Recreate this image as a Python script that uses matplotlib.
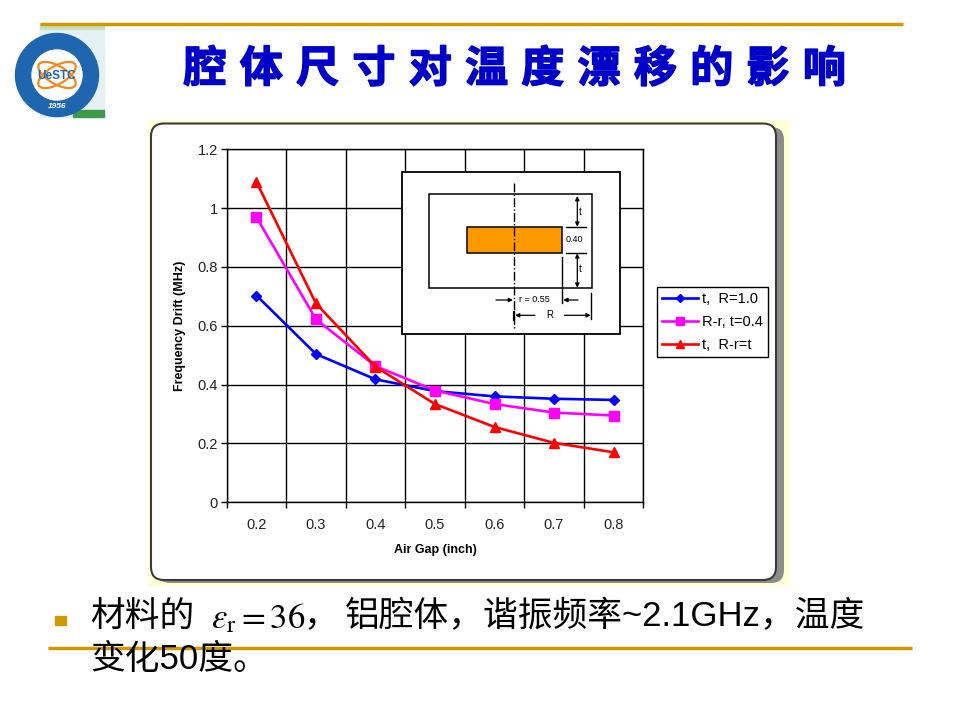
import numpy as np
import matplotlib
matplotlib.use("Agg")
import matplotlib.pyplot as plt
import matplotlib.patheffects as pe
from matplotlib.patches import Rectangle, FancyBboxPatch, Circle, Ellipse

plt.rcParams['font.family'] = ['Liberation Sans', 'Noto Sans CJK SC', 'DejaVu Sans']

# data
air_gap = ['0.2', '0.3', '0.4', '0.5', '0.6', '0.7', '0.8']
drift_t_R10 = [0.703, 0.504, 0.418, 0.378, 0.360, 0.352, 0.348]
drift_Rr_t04 = [0.969, 0.622, 0.463, 0.380, 0.334, 0.305, 0.295]
drift_t_Rrt = [1.089, 0.676, 0.461, 0.334, 0.256, 0.202, 0.170]
series_labels = ['t,  R=1.0', 'R-r, t=0.4', 't,  R-r=t']
y_ticks = [0, 0.2, 0.4, 0.6, 0.8, 1.0, 1.2]
y_tick_labels = ['0', '0.2', '0.4', '0.6', '0.8', '1', '1.2']

title_text = '腔体尺寸对温度漂移的影响'
GOLD = '#CC9900'

W, H = 960, 720
fig = plt.figure(figsize=(9.6, 7.2), dpi=100)


def fx(x):
    return x / W


def fy(y):
    return 1 - y / H


# background layer in pixel coordinates
bg = fig.add_axes([0, 0, 1, 1], zorder=0)
bg.set_xlim(0, W)
bg.set_ylim(H, 0)
bg.axis('off')

bg.plot([40, 903], [24, 24], color=GOLD, lw=2.5, solid_capstyle='butt')
bg.plot([48, 912], [647.5, 647.5], color=GOLD, lw=2.5, solid_capstyle='butt')

# logo (rough)
bg.add_patch(Rectangle((40, 26), 64, 91, color='#e4f0f2', zorder=1))
bg.add_patch(Rectangle((40, 24), 64, 5, color='#c8e0c0', zorder=1))
bg.add_patch(Rectangle((73, 110), 31, 7, color='#3c9a4c', zorder=1))
bg.add_patch(Circle((57, 75), 41.5, color='#1f66b0', zorder=2))
bg.add_patch(Circle((57, 75), 25, color='white', zorder=3))
for ang in (30, -30):
    bg.add_patch(Ellipse((57, 75), 42, 18, angle=ang, fill=False,
                         edgecolor='#f08a20', lw=1.6, zorder=4))
bg.text(57, 76, 'UeSTC', ha='center', va='center', fontsize=8.5,
        fontweight='bold', color='#1f66b0', zorder=5)
bg.text(57, 106, '1956', ha='center', va='center', fontsize=6,
        fontstyle='italic', fontweight='bold', color='white', zorder=5)

# slide title, one character at a time to get the wide spacing
for i, ch in enumerate(title_text):
    bg.text(205 + 56.3 * i, 69, ch, ha='center', va='center', fontsize=31,
            fontweight='heavy', color='#0000C8',
            family=['Noto Sans CJK SC', 'DejaVu Sans'],
            path_effects=[pe.withStroke(linewidth=1.1, foreground='#0000C8')])

# picture frame
bg.add_patch(Rectangle((148, 120), 641, 465, color='#FFFFD8', zorder=1))
bg.add_patch(FancyBboxPatch((157, 127), 627, 456,
                            boxstyle='round,pad=0,rounding_size=13',
                            facecolor='#8c8c8c', edgecolor='none', zorder=2))
bg.add_patch(FancyBboxPatch((151, 123.5), 625, 456.5,
                            boxstyle='round,pad=0,rounding_size=13',
                            facecolor='white', edgecolor='#3a3a3a', lw=1.5,
                            zorder=3))

# bottom bullet text
bg.add_patch(Rectangle((55, 616), 11, 9, color=GOLD))
body_font = ['Liberation Sans', 'Noto Sans CJK SC']
bg.text(90, 616, '材料的', ha='left', va='center', fontsize=25, family=body_font)
bg.text(211, 628, r'$\varepsilon_{\mathrm{r}} = 36$', ha='left', va='baseline',
        fontsize=25, math_fontfamily='stix')
bg.text(303, 616, '，', ha='left', va='center', fontsize=25, family=body_font)
bg.text(345, 616, '铝腔体，谐振频率~2.1GHz，温度', ha='left', va='center',
        fontsize=25, family=body_font)
bg.text(90, 660, '变化50度。', ha='left', va='center', fontsize=25,
        family=body_font)

# chart
left, right, top, bottom = 226.7, 643.3, 149.3, 502.3
ax = fig.add_axes([fx(left), fy(bottom), (right - left) / W, (bottom - top) / H],
                  zorder=1)
xpos = np.arange(len(air_gap)) + 0.5
ax.plot(xpos, drift_t_R10, color='#0000FF', lw=1.9, marker='D', ms=5.5,
        label=series_labels[0])
ax.plot(xpos, drift_Rr_t04, color='#FF00FF', lw=1.9, marker='s', ms=6.5,
        label=series_labels[1])
ax.plot(xpos, drift_t_Rrt, color='#FF0000', lw=1.9, marker='^', ms=7,
        label=series_labels[2])

ax.set_xlim(0, len(air_gap))
ax.set_ylim(0, 1.2)
ax.set_xticks(xpos)
ax.set_xticklabels(air_gap)
ax.set_xticks(np.arange(len(air_gap) + 1), minor=True)
ax.set_yticks(y_ticks)
ax.set_yticklabels(y_tick_labels)
ax.tick_params(axis='x', which='major', length=0, pad=11, labelsize=10.5,
               labelcolor='#222222')
ax.tick_params(axis='x', which='minor', length=4.5, width=1, direction='out')
ax.tick_params(axis='y', which='major', length=4.5, width=1, direction='out',
               pad=2, labelsize=10.5, labelcolor='#222222')
ax.grid(which='minor', axis='x', color='black', lw=1)
ax.grid(which='major', axis='y', color='black', lw=1)
for s in ax.spines.values():
    s.set_color('black')
    s.set_linewidth(1)
ax.set_xlabel('Air Gap (inch)', fontsize=9, fontweight='bold', labelpad=9)
ax.set_ylabel('Frequency Drift (MHz)', fontsize=9, fontweight='bold', labelpad=8)

ax.legend(loc='upper left', bbox_to_anchor=(fx(656.7), fy(287.3)),
          bbox_transform=fig.transFigure, fancybox=False, edgecolor='black',
          framealpha=1, borderaxespad=0, fontsize=10.5, numpoints=1,
          handlelength=2.5, handletextpad=0.25, borderpad=0.35,
          labelspacing=0.6, markerscale=0.8)
ax.get_legend().get_frame().set_linewidth(1)

# inset cavity sketch, pixel coordinates
ov = fig.add_axes([0, 0, 1, 1], zorder=3)
ov.set_xlim(0, W)
ov.set_ylim(H, 0)
ov.axis('off')
ov.patch.set_alpha(0)

ov.add_patch(Rectangle((401.7, 171.7), 218.3, 162.6, facecolor='white',
                       edgecolor='black', lw=1.3))
ov.add_patch(Rectangle((429, 193.7), 163.3, 94.3, fill=False,
                       edgecolor='black', lw=1.1))
ov.add_patch(Rectangle((466.7, 227.3), 95.6, 25.4, facecolor='#FF9900',
                       edgecolor='black', lw=1.1))
ov.plot([514.3, 514.3], [182.7, 330], color='black', lw=1, ls='-.')


def arrow(x0, y0, x1, y1, style='-|>'):
    ov.annotate('', xy=(x1, y1), xytext=(x0, y0),
                arrowprops=dict(arrowstyle=style, color='black', lw=0.9,
                                mutation_scale=6, shrinkA=0, shrinkB=0))


arrow(577.3, 196, 577.3, 226.7, '<|-|>')
arrow(577.3, 253.3, 577.3, 287.7, '<|-|>')
ov.plot([565.7, 586], [226.7, 226.7], color='black', lw=1)
ov.plot([565.7, 586], [253.3, 253.3], color='black', lw=1)
ov.plot([562.3, 562.3], [256.7, 303.3], color='black', lw=1)
ov.plot([591.3, 591.3], [293, 319], color='black', lw=1)
ov.text(580, 212, 't', ha='center', va='center', fontsize=7)
ov.text(580, 269, 't', ha='center', va='center', fontsize=7)
ov.text(574.7, 240, '0.40', ha='center', va='center', fontsize=6.5)
arrow(496, 300, 513, 300)
ov.text(534, 300, 'r = 0.55', ha='center', va='center', fontsize=6.5)
arrow(578, 300, 563.3, 300)
ov.plot([514.3, 514.3], [312, 320], color='black', lw=1.6)
arrow(535, 315.3, 515, 315.3)
ov.text(550, 315.3, 'R', ha='center', va='center', fontsize=7)
arrow(564.3, 315.3, 590.7, 315.3)

fig.savefig('out.png', dpi=100)
